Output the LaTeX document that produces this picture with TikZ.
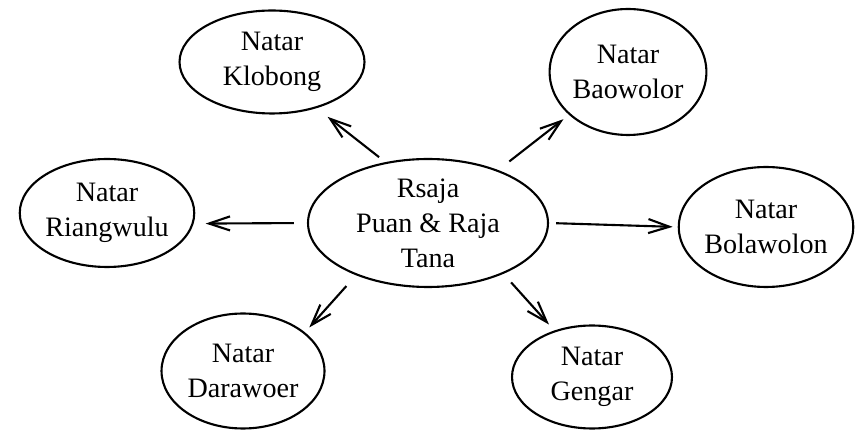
\documentclass[tikz,border=0pt]{standalone}
\usepackage{fontspec}
\setmainfont{Liberation Serif}
\usetikzlibrary{shapes.geometric, arrows.meta}

\begin{document}
\begin{tikzpicture}[
    x=0.02cm, y=-0.02cm,
    place/.style={draw, ellipse, line width=1.2pt, inner sep=0pt, align=center,
        font=\fontsize{16}{20}\selectfont},
    link/.style={line width=1.2pt, -{Straight Barb[length=12pt, width=8pt]}}]

\useasboundingbox (0,0) rectangle (857,431);

% Centre node
\node[place, minimum width=4.8cm, minimum height=2.56cm] (raja) at (428,223) {Rsaja \\ Puan \& Raja \\ Tana};

% Surrounding natar
\node[place, minimum width=3.7cm, minimum height=2.06cm] (klobong) at (272,62) {Natar \\ Klobong};
\node[place, minimum width=3.06cm, minimum height=2.52cm] (baowolor) at (628,72) {Natar \\ Baowolor};
\node[place, minimum width=3.4cm, minimum height=2.16cm] (riangwulu) at (107,213) {Natar \\ Riangwulu};
\node[place, minimum width=3.44cm, minimum height=2.4cm] (bolawolon) at (766,227) {Natar \\ Bolawolon};
\node[place, minimum width=3.26cm, minimum height=2.3cm] (darawoer) at (243,371) {Natar \\ Darawoer};
\node[place, minimum width=3.2cm, minimum height=2.06cm] (gengar) at (592,377) {Natar \\ Gengar};

% Arrows
\draw[link, shorten <=0.16cm, shorten >=0.28cm] (raja.125) -- (klobong.-46);
\draw[link, shorten <=0.28cm, shorten >=0.14cm] (raja.37) -- (baowolor.216);
\draw[link, shorten <=0.26cm, shorten >=0.24cm] (raja.west) -- (riangwulu.-7.5);
\draw[link, shorten <=0.14cm, shorten >=0.10cm] (raja.east) -- (bolawolon.west);
\draw[link, shorten <=0.29cm, shorten >=0.13cm] (raja.216) -- (darawoer.32);
\draw[link, shorten <=0.23cm, shorten >=0.16cm] (raja.-34) -- (gengar.129);

\end{tikzpicture}
\end{document}
